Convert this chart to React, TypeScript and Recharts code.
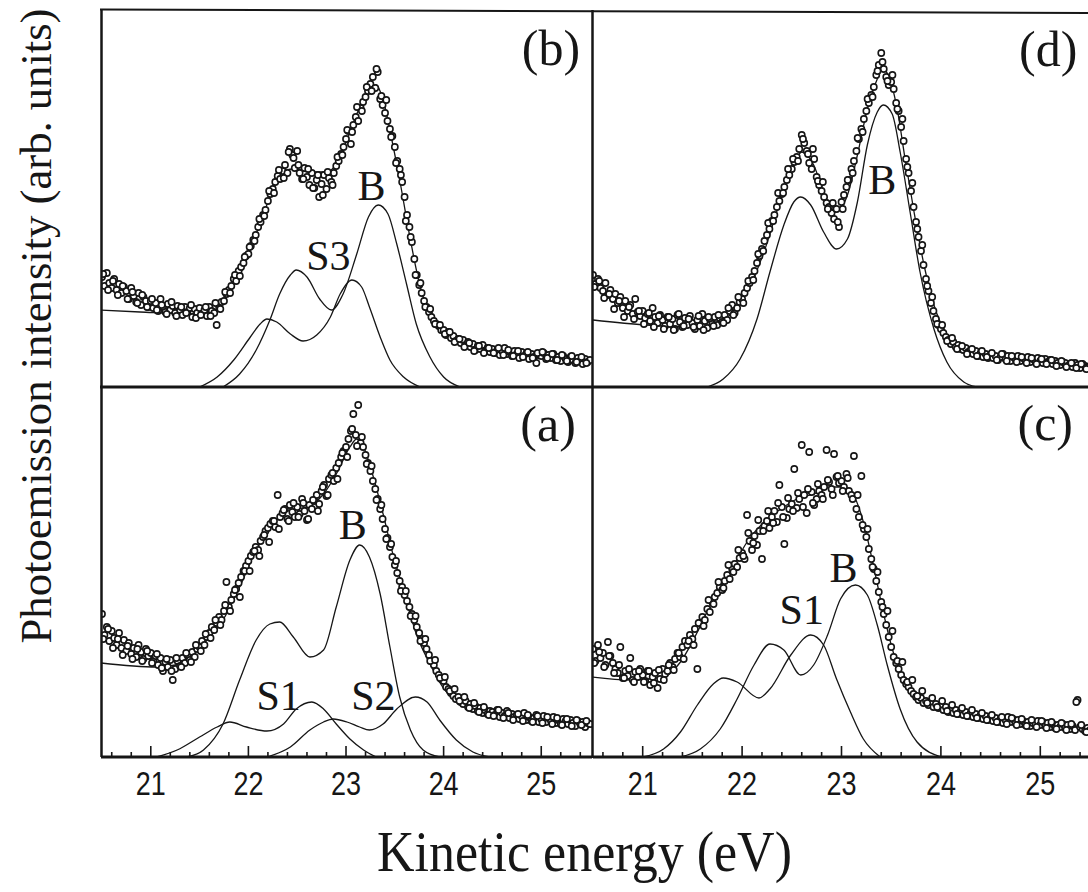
import { ComposedChart, Line, Scatter, XAxis, YAxis, ReferenceDot } from "recharts";

type Pair = [number, number];

const INK = "#161616";
const SERIF = '"Liberation Serif", "Times New Roman", Times, serif';
const SANS = '"Liberation Sans", Arial, sans-serif';

// energy grids of the two sweeps of each spectrum (eV)
const SWEEP1_START = 20.5;
const SWEEP1_STEP = 0.025;
const SWEEP2_START = 20.5125;
const SWEEP2_STEP = 0.05;

const majorTicks = [21, 22, 23, 24, 25];
const energyTicks = [
  20.6, 20.8, 21, 21.2, 21.4, 21.6, 21.8, 22, 22.2, 22.4, 22.6, 22.8, 23,
  23.2, 23.4, 23.6, 23.8, 24, 24.2, 24.4, 24.6, 24.8, 25, 25.2, 25.4,
];

// ---- panel (a) ----
const scanA = [
  143, 122, 130, 116, 126, 119, 112, 124, 109, 117,
  106, 114, 103, 109, 100, 112, 105, 98, 108, 101,
  104, 96, 101, 92, 99, 86, 95, 90, 97, 77,
  88, 96, 91, 99, 94, 102, 97, 105, 100, 108,
  110, 116, 112, 120, 124, 130, 127, 134, 140, 137,
  146, 175, 150, 157, 163, 168, 174, 180, 186, 191,
  196, 201, 205, 210, 207, 216, 220, 226, 229, 233,
  236, 230, 262, 240, 244, 248, 238, 252, 245, 240,
  250, 243, 258, 246, 237, 252, 248, 256, 262, 253,
  266, 272, 261, 278, 282, 276, 289, 294, 300, 306,
  310, 318, 326, 343, 322, 352, 314, 310, 302, 294,
  286, 276, 268, 258, 248, 238, 228, 219, 210, 200,
  192, 184, 176, 170, 162, 156, 150, 143, 137, 130,
  124, 118, 114, 108, 102, 96, 92, 86, 82, 78,
  76, 70, 68, 64, 61, 58, 60, 55, 53, 56,
  50, 53, 48, 51, 46, 49, 44, 47, 43, 46,
  45, 42, 47, 40, 44, 41, 46, 39, 43, 40,
  42, 38, 41, 44, 37, 40, 36, 39, 42, 35,
  38, 41, 35, 39, 36, 40, 34, 37, 33, 38,
  36, 33, 37, 34, 31, 36, 33, 35, 30, 34,
  33,
];
const scanA2 = [
  118, 128, 109, 118, 102, 111, 98, 108, 96, 106,
  94, 103, 89, 98, 86, 99, 90, 104, 95, 112,
  106, 123, 119, 137, 132, 152, 146, 167, 160, 186,
  186, 206, 201, 222, 215, 236, 228, 247, 236, 254,
  240, 254, 238, 257, 246, 270, 262, 284, 278, 304,
  300, 328, 311, 320, 293, 291, 257, 252, 218, 213,
  196, 166, 166, 141, 141, 116, 118, 96, 97, 79,
  80, 66, 68, 56, 60, 49, 54, 45, 50, 42,
  41, 47, 39, 44, 37, 43, 36, 42, 35, 41,
  34, 40, 33, 39, 32, 38, 31, 37, 32, 36,
];
const fitA: Pair[] = [
  [20.49, 94], [21.06, 90], [21.25, 92], [21.4, 100], [21.54, 113], [21.74, 137],
  [21.91, 170], [22.08, 207], [22.22, 230], [22.43, 247], [22.6, 250], [22.77, 263],
  [22.9, 283], [23.04, 310], [23.11, 318], [23.18, 310], [23.28, 280], [23.38, 243],
  [23.48, 203], [23.59, 167], [23.72, 123], [23.86, 93], [23.99, 70], [24.2, 53],
  [24.47, 43], [24.81, 37], [25.16, 33], [25.52, 30],
];
const peakA_B: Pair[] = [
  [21.37, 0], [21.54, 7], [21.74, 33], [21.91, 77], [22.08, 117], [22.22, 133],
  [22.32, 135], [22.46, 120], [22.63, 100], [22.77, 107], [22.9, 150], [23.04, 197],
  [23.14, 212], [23.24, 200], [23.35, 163], [23.45, 110], [23.55, 60], [23.66, 27],
  [23.79, 7], [23.96, 0],
];
const peakA_S1: Pair[] = [
  [21.06, 0], [21.27, 7], [21.5, 20], [21.68, 30], [21.81, 35], [21.98, 30],
  [22.19, 26], [22.36, 33], [22.49, 48], [22.65, 55], [22.77, 48], [22.9, 33],
  [23.04, 18], [23.18, 7], [23.31, 0],
];
const peakA_S2: Pair[] = [
  [22.19, 0], [22.43, 10], [22.63, 27], [22.77, 35], [22.87, 38], [23.01, 35],
  [23.14, 30], [23.24, 27], [23.38, 33], [23.52, 48], [23.71, 60], [23.83, 55],
  [23.96, 37], [24.13, 17], [24.3, 5], [24.47, 0],
];

// ---- panel (b) ----
const scanB = [
  110, 101, 114, 104, 99, 108, 97, 103, 94, 100,
  96, 88, 99, 91, 85, 94, 82, 90, 86, 80,
  86, 79, 84, 76, 88, 80, 75, 83, 77, 81,
  74, 81, 77, 72, 80, 75, 79, 70, 78, 74,
  79, 73, 77, 71, 80, 76, 74, 62, 79, 85,
  86, 93, 97, 101, 108, 106, 116, 120, 124, 131,
  133, 141, 147, 152, 160, 165, 172, 177, 186, 193,
  198, 205, 211, 208, 216, 222, 214, 238, 232, 219,
  236, 214, 208, 219, 210, 202, 214, 199, 207, 190,
  203, 212, 198, 209, 205, 214, 221, 226, 233, 240,
  248, 256, 243, 262, 270, 266, 279, 285, 290, 296,
  303, 310, 299, 315, 288, 282, 274, 266, 258, 251,
  240, 226, 218, 205, 190, 172, 160, 145, 128, 112,
  102, 94, 86, 80, 75, 70, 66, 63, 61, 57,
  57, 52, 55, 49, 51, 46, 48, 44, 47, 42,
  45, 40, 43, 37, 41, 38, 42, 36, 39, 35,
  38, 34, 37, 32, 36, 39, 33, 35, 31, 36,
  33, 29, 35, 31, 34, 28, 33, 30, 24, 32,
  31, 34, 28, 32, 29, 33, 27, 30, 26, 31,
  28, 25, 30, 27, 24, 29, 26, 23, 28, 25,
  27,
];
const scanB2 = [
  113, 97, 106, 92, 101, 88, 95, 84, 92, 80,
  88, 77, 82, 73, 85, 71, 80, 74, 82, 69,
  72, 80, 71, 84, 78, 95, 94, 112, 111, 130,
  140, 146, 168, 171, 196, 194, 217, 209, 235, 229,
  222, 208, 218, 199, 212, 192, 215, 202, 230, 232,
  257, 255, 280, 276, 300, 296, 318, 291, 287, 250,
  224, 212, 166, 150, 112, 104, 80, 78, 63, 62,
  53, 55, 45, 48, 40, 44, 36, 41, 34, 39,
  34, 39, 32, 37, 31, 36, 30, 35, 29, 34,
  35, 29, 33, 27, 32, 26, 31, 25, 30, 24,
];
const fitB: Pair[] = [
  [20.49, 77], [20.89, 75], [21.4, 73], [21.68, 78], [21.81, 97], [21.95, 120],
  [22.08, 153], [22.22, 190], [22.32, 213], [22.46, 218], [22.63, 215], [22.8, 215],
  [22.9, 223], [23.01, 247], [23.11, 273], [23.21, 293], [23.31, 302], [23.38, 287],
  [23.47, 247], [23.55, 207], [23.66, 147], [23.76, 100], [23.89, 67], [24.06, 50],
  [24.3, 40], [24.64, 33], [25.16, 28], [25.52, 25],
];
const peakB_S3: Pair[] = [
  [21.5, 0], [21.68, 10], [21.85, 27], [22.02, 50], [22.12, 63], [22.19, 68],
  [22.29, 65], [22.43, 53], [22.56, 46], [22.7, 52], [22.84, 70], [22.94, 93],
  [23.06, 107], [23.16, 100], [23.24, 80], [23.35, 50], [23.45, 27], [23.59, 10],
  [23.76, 0],
];
const peakB_B: Pair[] = [
  [21.74, 0], [21.91, 13], [22.08, 37], [22.22, 67], [22.32, 93], [22.43, 112],
  [22.49, 117], [22.6, 110], [22.73, 88], [22.85, 77], [22.97, 93], [23.11, 133],
  [23.23, 170], [23.33, 182], [23.43, 173], [23.52, 143], [23.62, 103], [23.72, 63],
  [23.86, 30], [24.0, 10], [24.17, 0],
];

// ---- panel (c) ----
const scanC = [
  108, 96, 112, 99, 104, 92, 115, 101, 94, 88,
  84, 110, 79, 86, 81, 99, 77, 85, 80, 88,
  82, 76, 86, 72, 80, 84, 69, 78, 88, 83,
  86, 94, 90, 98, 104, 100, 110, 116, 112, 122,
  118, 128, 88, 134, 140, 137, 148, 145, 155, 160,
  164, 170, 167, 176, 182, 178, 188, 193, 190, 199,
  204, 198, 242, 216, 207, 221, 212, 226, 198, 231,
  236, 229, 240, 246, 235, 272, 250, 213, 239, 248,
  253, 288, 249, 258, 312, 262, 244, 305, 265, 252,
  258, 266, 262, 270, 307, 275, 268, 303, 280, 274,
  276, 270, 283, 266, 262, 301, 248, 240, 281, 228,
  220, 208, 198, 188, 176, 165, 155, 143, 132, 120,
  110, 100, 94, 88, 82, 77, 73, 70, 66, 63,
  60, 57, 59, 54, 56, 52, 55, 50, 53, 49,
  51, 47, 50, 45, 48, 44, 47, 43, 46, 42,
  45, 41, 44, 40, 43, 39, 42, 38, 41, 37,
  40, 36, 39, 35, 38, 34, 37, 40, 35, 38,
  34, 37, 33, 36, 32, 35, 31, 34, 33, 36,
  32, 35, 31, 34, 30, 33, 29, 32, 30, 33,
  29, 32, 28, 31, 27, 57, 30, 28, 26, 29,
  27,
];
const scanC2 = [
  94, 105, 90, 101, 84, 92, 79, 88, 75, 86,
  75, 86, 74, 87, 77, 92, 87, 104, 98, 116,
  112, 134, 131, 157, 153, 175, 169, 192, 185, 207,
  201, 224, 214, 237, 226, 246, 234, 254, 240, 259,
  246, 264, 250, 268, 254, 273, 258, 277, 262, 281,
  266, 279, 258, 262, 232, 228, 190, 185, 150, 146,
  126, 96, 95, 75, 77, 61, 66, 54, 59, 50,
  56, 46, 52, 43, 49, 41, 47, 39, 44, 37,
  42, 35, 40, 33, 39, 32, 38, 31, 37, 30,
  36, 29, 35, 28, 34, 27, 33, 55, 32, 25,
];
const fitC: Pair[] = [
  [20.49, 80], [20.88, 77], [21.21, 80], [21.38, 95], [21.55, 125], [21.71, 158],
  [21.88, 185], [22.05, 215], [22.22, 235], [22.39, 248], [22.55, 258], [22.72, 263],
  [22.89, 270], [23.02, 270], [23.12, 262], [23.22, 235], [23.32, 192], [23.42, 145],
  [23.52, 105], [23.66, 72], [23.83, 55], [24.06, 45], [24.4, 38], [24.9, 33],
  [25.5, 27],
];
const peakC_S1: Pair[] = [
  [21.01, 0], [21.21, 8], [21.38, 25], [21.55, 52], [21.71, 73], [21.81, 79],
  [21.95, 75], [22.17, 59], [22.28, 68], [22.49, 102], [22.69, 122], [22.82, 112],
  [22.95, 78], [23.09, 45], [23.22, 18], [23.39, 0],
];
const peakC_B: Pair[] = [
  [21.38, 0], [21.58, 8], [21.78, 28], [21.95, 58], [22.12, 92], [22.28, 113],
  [22.42, 107], [22.59, 82], [22.72, 92], [22.86, 122], [22.99, 158], [23.14, 172],
  [23.26, 162], [23.36, 132], [23.46, 92], [23.59, 48], [23.76, 15], [24.01, 0],
];

// ---- panel (d) ----
const scanD = [
  112, 103, 108, 99, 96, 104, 92, 97, 88, 93,
  84, 90, 79, 86, 76, 82, 73, 88, 75, 71,
  76, 69, 73, 66, 79, 70, 64, 72, 67, 61,
  70, 63, 68, 58, 72, 65, 60, 69, 62, 71,
  64, 58, 67, 61, 73, 66, 59, 68, 63, 70,
  62, 69, 65, 72, 67, 76, 82, 74, 79, 85,
  88, 94, 99, 104, 110, 116, 124, 131, 138, 146,
  152, 158, 166, 172, 180, 186, 193, 200, 207, 212,
  218, 225, 230, 238, 252, 244, 236, 224, 218, 228,
  210, 202, 196, 190, 184, 180, 174, 168, 178, 160,
  185, 192, 200, 207, 218, 226, 236, 248, 258, 268,
  276, 284, 292, 300, 312, 322, 334, 318, 310, 302,
  305, 298, 284, 276, 260, 246, 228, 214, 196, 180,
  165, 150, 136, 122, 108, 96, 84, 76, 68, 62,
  58, 54, 50, 47, 43, 45, 40, 42, 38, 37,
  39, 35, 37, 33, 36, 31, 34, 30, 33, 29,
  32, 29, 31, 27, 30, 33, 28, 31, 26, 30,
  28, 31, 26, 29, 27, 30, 25, 28, 26, 29,
  26, 24, 28, 25, 27, 23, 26, 24, 22, 25,
  24, 21, 23, 20, 24, 22, 19, 23, 21, 20,
  21,
];
const scanD2 = [
  100, 106, 89, 93, 78, 86, 70, 80, 68, 76,
  63, 74, 60, 71, 58, 70, 57, 73, 61, 68,
  60, 71, 57, 70, 61, 72, 64, 79, 72, 90,
  84, 106, 107, 133, 136, 164, 166, 194, 194, 218,
  228, 226, 248, 233, 238, 206, 205, 178, 184, 165,
  178, 207, 214, 249, 255, 288, 290, 316, 325, 306,
  312, 278, 268, 220, 204, 158, 142, 101, 90, 63,
  62, 46, 49, 38, 41, 33, 38, 31, 36, 30,
  34, 27, 33, 26, 31, 25, 30, 24, 29, 23,
  28, 23, 27, 21, 26, 20, 24, 19, 23, 18,
];
const fitD: Pair[] = [
  [20.5, 67], [21.04, 62], [21.55, 60], [21.88, 72], [22.05, 95], [22.22, 135],
  [22.39, 188], [22.52, 222], [22.6, 235], [22.72, 222], [22.82, 195], [22.94, 175],
  [23.06, 192], [23.16, 232], [23.26, 278], [23.36, 308], [23.41, 318], [23.47, 312],
  [23.56, 278], [23.64, 228], [23.73, 175], [23.83, 122], [23.93, 82], [24.06, 52],
  [24.23, 38], [24.57, 30], [25.07, 25], [25.5, 20],
];
const peakD_B: Pair[] = [
  [21.65, 0], [21.81, 8], [21.98, 28], [22.15, 68], [22.28, 115], [22.42, 162],
  [22.52, 185], [22.59, 190], [22.69, 182], [22.82, 155], [22.95, 138], [23.06, 148],
  [23.16, 185], [23.26, 242], [23.36, 275], [23.42, 282], [23.51, 273], [23.59, 235],
  [23.69, 175], [23.79, 115], [23.93, 58], [24.06, 25], [24.23, 5], [24.36, 0],
];

interface Tag {
  text: string;
  e: number;
  v: number;
  size: number;
}

interface PanelProps {
  left: number;
  top: number;
  width: number;
  height: number;
  domain: [number, number];
  sweep1: number[];
  sweep2: number[];
  curves: Pair[][];
  tags: Tag[];
  axis: boolean;
}

const EnergyTick = (props: any) => {
  const { x, y, payload } = props;
  const major = majorTicks.includes(payload.value);
  return (
    <g>
      <line x1={x} x2={x} y1={y} y2={y - (major ? 11 : 5)} stroke={INK} strokeWidth={1.6} />
      {major && (
        <text
          x={x}
          y={y + 38}
          textAnchor="middle"
          fontFamily={SANS}
          fontSize={34}
          fill={INK}
          textLength={30}
          lengthAdjust="spacingAndGlyphs"
        >
          {payload.value}
        </text>
      )}
    </g>
  );
};

const Ring = (props: any) => {
  if (props.cx == null || props.cy == null) return null;
  return <circle cx={props.cx} cy={props.cy} r={3.1} fill="#fff" stroke={INK} strokeWidth={1.6} />;
};

const toPoints = (vals: number[], start: number, step: number) =>
  vals.map((v, i) => ({ e: Math.round((start + i * step) * 10000) / 10000, v }));

function Panel(p: PanelProps) {
  const pts = [
    ...toPoints(p.sweep1, SWEEP1_START, SWEEP1_STEP),
    ...toPoints(p.sweep2, SWEEP2_START, SWEEP2_STEP),
  ];
  return (
    <div style={{ position: "absolute", left: p.left, top: p.top }}>
      <ComposedChart
        width={p.width}
        height={p.height + (p.axis ? 60 : 0)}
        margin={{ top: 0, right: 0, bottom: 0, left: 0 }}
      >
        <XAxis
          dataKey="e"
          type="number"
          domain={p.domain}
          allowDataOverflow
          hide={!p.axis}
          ticks={energyTicks}
          interval={0}
          tickLine={false}
          tickSize={0}
          tickMargin={0}
          axisLine={{ stroke: INK, strokeWidth: 3 }}
          tick={(t: any) => <EnergyTick {...t} />}
          height={60}
        />
        <YAxis dataKey="v" type="number" domain={[0, p.height]} allowDataOverflow hide />
        {p.curves.map((c, k) => (
          <Line
            key={k}
            data={c.map(([e, v]) => ({ e, v }))}
            dataKey="v"
            type="monotone"
            stroke={INK}
            strokeWidth={1.3}
            dot={false}
            activeDot={false}
            isAnimationActive={false}
          />
        ))}
        <Scatter data={pts} dataKey="v" shape={(s: any) => <Ring {...s} />} isAnimationActive={false} />
        {p.tags.map((t, k) => (
          <ReferenceDot
            key={k}
            x={t.e}
            y={t.v}
            r={1}
            fill="none"
            stroke="none"
            label={{ value: t.text, position: "center", fontSize: t.size, fontFamily: SERIF, fill: INK }}
          />
        ))}
      </ComposedChart>
    </div>
  );
}

export default function App() {
  return (
    <div
      style={{
        position: "absolute",
        left: 0,
        top: 0,
        width: 1088,
        height: 892,
        overflow: "hidden",
        background: "#fff",
      }}
    >
      <Panel
        left={101}
        top={10}
        width={491}
        height={377}
        domain={[20.49, 25.52]}
        sweep1={scanB}
        sweep2={scanB2}
        curves={[fitB, peakB_S3, peakB_B]}
        tags={[
          { text: "(b)", e: 25.1, v: 340, size: 50 },
          { text: "B", e: 23.26, v: 202, size: 42 },
          { text: "S3", e: 22.82, v: 132, size: 42 },
        ]}
        axis={false}
      />
      <Panel
        left={593}
        top={10}
        width={497}
        height={377}
        domain={[20.5, 25.5]}
        sweep1={scanD}
        sweep2={scanD2}
        curves={[fitD, peakD_B]}
        tags={[
          { text: "(d)", e: 25.08, v: 339, size: 50 },
          { text: "B", e: 23.41, v: 208, size: 42 },
        ]}
        axis={false}
      />
      <Panel
        left={101}
        top={387}
        width={491}
        height={370}
        domain={[20.49, 25.52]}
        sweep1={scanA}
        sweep2={scanA2}
        curves={[fitA, peakA_B, peakA_S1, peakA_S2]}
        tags={[
          { text: "(a)", e: 25.07, v: 334, size: 50 },
          { text: "B", e: 23.07, v: 233, size: 42 },
          { text: "S1", e: 22.31, v: 62, size: 42 },
          { text: "S2", e: 23.28, v: 62, size: 42 },
        ]}
        axis
      />
      <Panel
        left={593}
        top={387}
        width={497}
        height={370}
        domain={[20.5, 25.5]}
        sweep1={scanC}
        sweep2={scanC2}
        curves={[fitC, peakC_S1, peakC_B]}
        tags={[
          { text: "(c)", e: 25.05, v: 335, size: 50 },
          { text: "B", e: 23.02, v: 190, size: 42 },
          { text: "S1", e: 22.6, v: 148, size: 42 },
        ]}
        axis
      />
      <svg
        width={1088}
        height={892}
        style={{ position: "absolute", left: 0, top: 0, pointerEvents: "none" }}
      >
        <line x1={101.5} x2={101.5} y1={9} y2={757} stroke={INK} strokeWidth={2.5} />
        <line x1={592.5} x2={592.5} y1={10} y2={758} stroke={INK} strokeWidth={2.5} />
        <line x1={100} x2={1088} y1={9.5} y2={13} stroke={INK} strokeWidth={2} />
        <line x1={100} x2={1088} y1={387} y2={387} stroke={INK} strokeWidth={3} />
        <text
          transform="translate(51, 326) rotate(-90)"
          textAnchor="middle"
          fontFamily={SERIF}
          fontSize={44}
          fill={INK}
          textLength={635}
          lengthAdjust="spacingAndGlyphs"
        >
          Photoemission intensity (arb. units)
        </text>
        <text
          x={584.5}
          y={871}
          textAnchor="middle"
          fontFamily={SERIF}
          fontSize={56}
          fill={INK}
          textLength={415}
          lengthAdjust="spacingAndGlyphs"
        >
          Kinetic energy (eV)
        </text>
      </svg>
    </div>
  );
}
